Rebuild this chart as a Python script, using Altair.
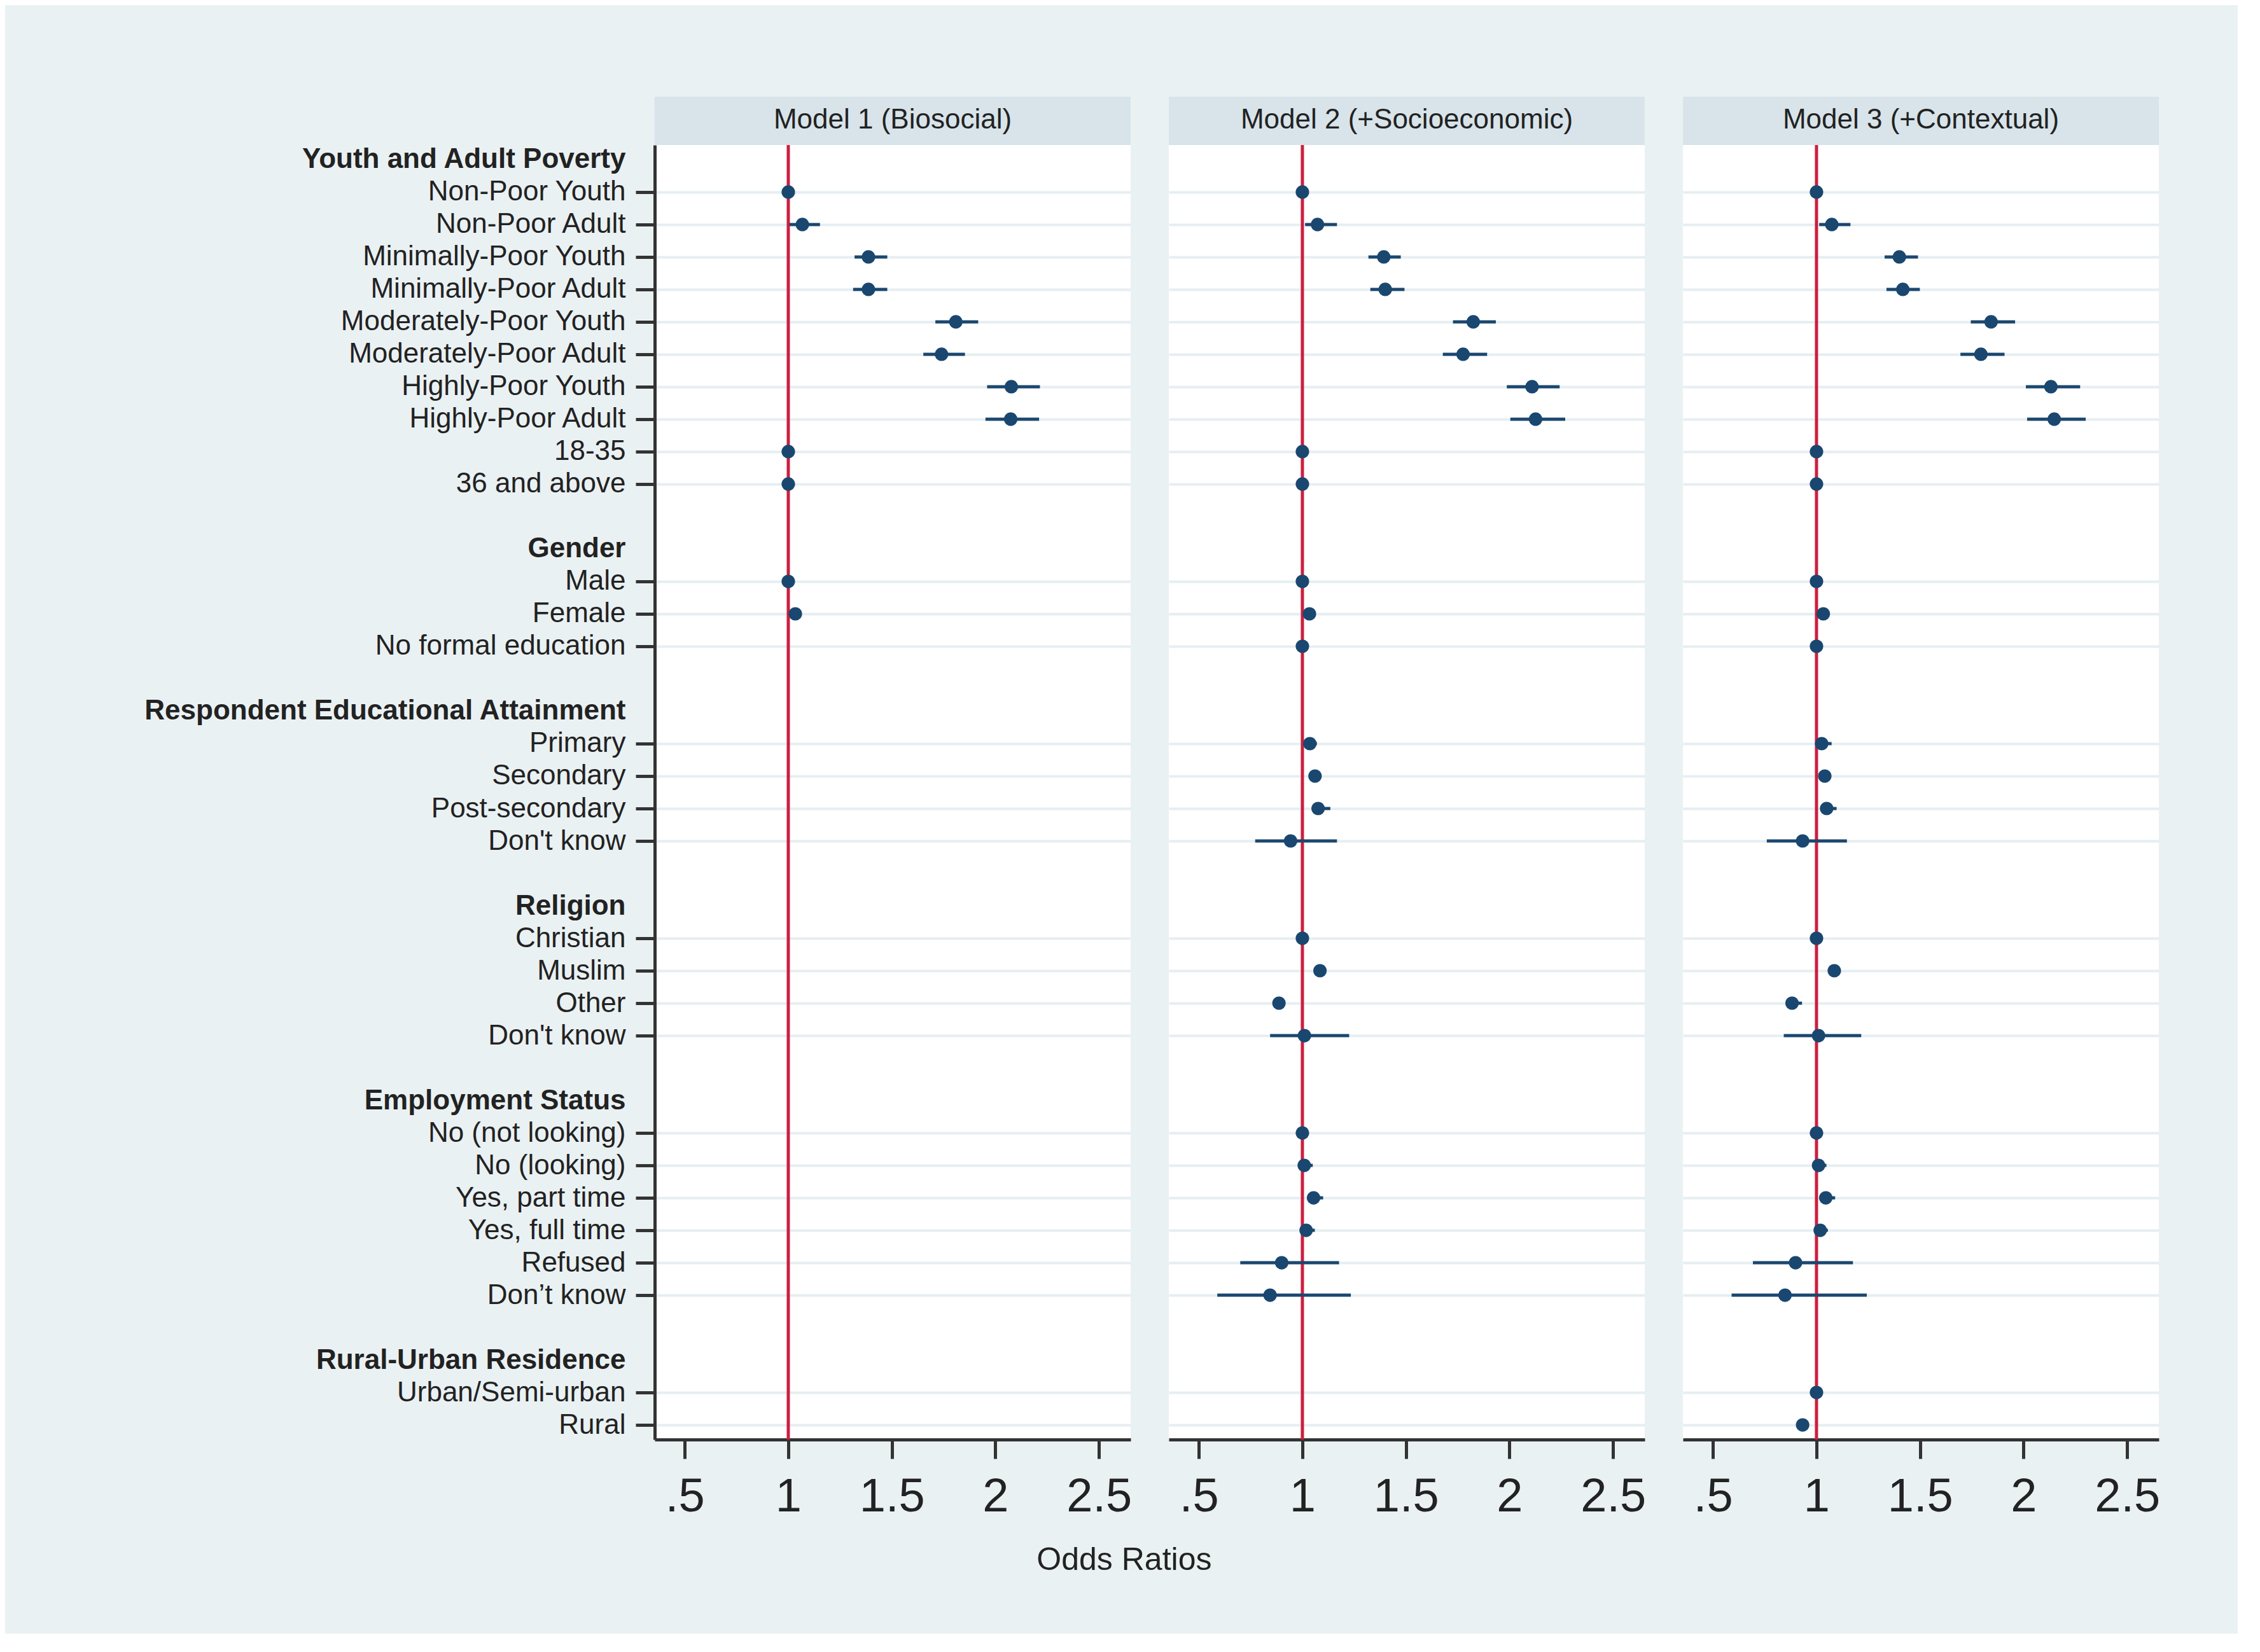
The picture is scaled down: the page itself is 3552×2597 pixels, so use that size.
import altair as alt
import pandas as pd

# ---------------- data ----------------
sections = [
    "Youth and Adult Poverty",
    "Gender",
    "Respondent Educational Attainment",
    "Religion",
    "Employment Status",
    "Rural-Urban Residence",
]
section_items = [
    ["Non-Poor Youth", "Non-Poor Adult", "Minimally-Poor Youth", "Minimally-Poor Adult",
     "Moderately-Poor Youth", "Moderately-Poor Adult", "Highly-Poor Youth", "Highly-Poor Adult",
     "18-35", "36 and above"],
    ["Male", "Female", "No formal education"],
    ["Primary", "Secondary", "Post-secondary", "Don't know"],
    ["Christian", "Muslim", "Other", "Don't know"],
    ["No (not looking)", "No (looking)", "Yes, part time", "Yes, full time", "Refused", "Don’t know"],
    ["Urban/Semi-urban", "Rural"],
]
models = ["Model 1 (Biosocial)", "Model 2 (+Socioeconomic)", "Model 3 (+Contextual)"]
x_ticks = [0.5, 1, 1.5, 2, 2.5]
x_domain = [0.355, 2.653]
ref_line = [1.0]
x_title = "Odds Ratios"

N = None
m1_or = [1.0, 1.068, 1.387, 1.387, 1.809, 1.740, 2.077, 2.074, 1.0, 1.0,
         1.0, 1.034, N,
         N, N, N, N,
         N, N, N, N,
         N, N, N, N, N, N,
         N, N]
m1_lo = [N, 1.005, 1.320, 1.313, 1.710, 1.652, 1.960, 1.952, N, N,
         N, 1.010, N,
         N, N, N, N,
         N, N, N, N,
         N, N, N, N, N, N,
         N, N]
m1_hi = [N, 1.153, 1.478, 1.478, 1.917, 1.853, 2.215, 2.211, N, N,
         N, 1.060, N,
         N, N, N, N,
         N, N, N, N,
         N, N, N, N, N, N,
         N, N]

m2_or = [1.0, 1.073, 1.393, 1.400, 1.825, 1.776, 2.109, 2.126, 1.0, 1.0,
         1.0, 1.034, 1.0,
         1.036, 1.061, 1.076, 0.943,
         1.0, 1.085, 0.887, 1.010,
         1.0, 1.009, 1.054, 1.018, 0.900, 0.844,
         N, N]
m2_lo = [N, 1.013, 1.319, 1.328, 1.727, 1.678, 1.987, 2.004, N, N,
         N, 1.010, N,
         1.015, 1.040, 1.045, 0.772,
         N, 1.060, 0.870, 0.844,
         N, 0.990, 1.025, 0.995, 0.700, 0.589,
         N, N]
m2_hi = [N, 1.167, 1.475, 1.493, 1.934, 1.892, 2.242, 2.269, N, N,
         N, 1.060, N,
         1.070, 1.090, 1.135, 1.167,
         N, 1.110, 0.905, 1.226,
         N, 1.050, 1.100, 1.060, 1.177, 1.234,
         N, N]

m3_or = [1.0, 1.074, 1.400, 1.417, 1.843, 1.794, 2.132, 2.148, 1.0, 1.0,
         1.0, 1.033, 1.0,
         1.025, 1.040, 1.049, 0.933,
         1.0, 1.086, 0.882, 1.010,
         1.0, 1.010, 1.045, 1.018, 0.899, 0.848,
         1.0, 0.933]
m3_lo = [N, 1.013, 1.329, 1.338, 1.745, 1.695, 2.011, 2.017, N, N,
         N, 1.010, N,
         1.000, 1.015, 1.020, 0.760,
         N, 1.060, 0.860, 0.842,
         N, 0.990, 1.013, 0.995, 0.693, 0.590,
         N, 0.910]
m3_hi = [N, 1.164, 1.490, 1.499, 1.959, 1.908, 2.273, 2.300, N, N,
         N, 1.055, N,
         1.073, 1.070, 1.097, 1.147,
         N, 1.115, 0.930, 1.216,
         N, 1.048, 1.090, 1.055, 1.176, 1.243,
         N, 0.955]

model_values = [(m1_or, m1_lo, m1_hi), (m2_or, m2_lo, m2_hi), (m3_or, m3_lo, m3_hi)]

# ---------------- styling ----------------
FONT = "Liberation Sans"
TXT = "#222222"
BG = "#EAF1F3"
HEAD = "#D8E4EA"
GRID = "#E6EEF1"
NAVY = "#1A476F"
RED = "#CC1F3F"
AXIS = "#333333"
PW, PH, HH = 748, 2035, 76

# row keys (headers, items, blanks)
keys, item_keys = [], []
for s, (title, items) in enumerate(zip(sections, section_items)):
    if s > 0:
        keys.append(f"B{s}|")
    keys.append(f"H{s}|{title}")
    for j, it in enumerate(items):
        k = f"I{s}{j:02d}|{it}"
        keys.append(k)
        item_keys.append(k)

yscale = alt.Scale(domain=keys, type="point", padding=0.45)
xscale = alt.Scale(domain=x_domain, nice=False, zero=False)

is_item = "indexof(datum.value, 'I') == 0"
is_head = "indexof(datum.value, 'H') == 0"

xaxis = alt.Axis(
    values=x_ticks,
    labelExpr="datum.value < 1 ? substring(toString(datum.value), 1) : toString(datum.value)",
    labelFont=FONT, labelFontSize=74, labelColor=TXT, labelPadding=24,
    labelFlush=False, labelOverlap=False,
    tickSize=30, tickWidth=5, tickColor=AXIS,
    domainColor=AXIS, domainWidth=5, grid=False, title=None,
)

def y_axis(first):
    common = dict(
        gridColor=GRID, gridWidth=4,
        gridOpacity={"condition": {"test": is_item, "value": 1}, "value": 0},
        title=None,
    )
    if first:
        return alt.Axis(
            labelExpr="split(datum.value, '|')[1]",
            labelFont=FONT, labelFontSize=44, labelColor=TXT, labelPadding=16,
            labelLimit=2000,
            labelFontWeight={"condition": {"test": is_head, "value": "bold"}, "value": "normal"},
            tickSize=30, tickWidth=5, tickColor=AXIS,
            tickOpacity={"condition": {"test": is_item, "value": 1}, "value": 0},
            domainColor=AXIS, domainWidth=5, grid=True,
            **common,
        )
    return alt.Axis(labels=False, ticks=False, domain=False, grid=True, **common)


def panel(i):
    ors, los, his = model_values[i]
    df = pd.DataFrame({"key": item_keys, "or": ors, "lo": los, "hi": his})
    pts = df.dropna(subset=["or"])
    cis = df.dropna(subset=["lo", "hi"])
    y = alt.Y("key:N", scale=yscale, axis=y_axis(i == 0), title=None)
    ref = alt.Chart(pd.DataFrame({"ref": ref_line})).mark_rule(
        color=RED, strokeWidth=5
    ).encode(x=alt.X("ref:Q", scale=xscale, axis=xaxis, title=None))
    ci = alt.Chart(cis).mark_rule(color=NAVY, strokeWidth=5).encode(
        x=alt.X("lo:Q", scale=xscale, axis=xaxis, title=None), x2="hi:Q", y=y
    )
    pt = alt.Chart(pts).mark_circle(color=NAVY, opacity=1, size=450).encode(
        x=alt.X("or:Q", scale=xscale, axis=xaxis, title=None), y=y
    )
    return alt.layer(ref, ci, pt).properties(
        width=PW, height=PH, view=alt.ViewBackground(fill="white", stroke=None)
    )


def header(i):
    return alt.Chart(pd.DataFrame({"model": [models[i]]})).mark_text(
        font=FONT, fontSize=44, color=TXT, baseline="alphabetic", align="center"
    ).encode(
        text="model:N", x=alt.value(PW / 2), y=alt.value(50)
    ).properties(width=PW, height=HH, view=alt.ViewBackground(fill=HEAD, stroke=None))


cols = [alt.vconcat(header(i), panel(i), spacing=0, bounds="flush") for i in range(3)]

chart = alt.hconcat(*cols, spacing=58).properties(
    title=alt.TitleParams(
        x_title, orient="bottom", anchor="middle", font=FONT, fontSize=50,
        fontWeight="normal", color=TXT, offset=38, dx=-43,
    ),
    background=BG,
    padding={"left": 217, "top": 144, "right": 122, "bottom": 90},
).configure_view(stroke=None)

chart.save("out.html", embed_options={"renderer": "svg", "actions": False})
